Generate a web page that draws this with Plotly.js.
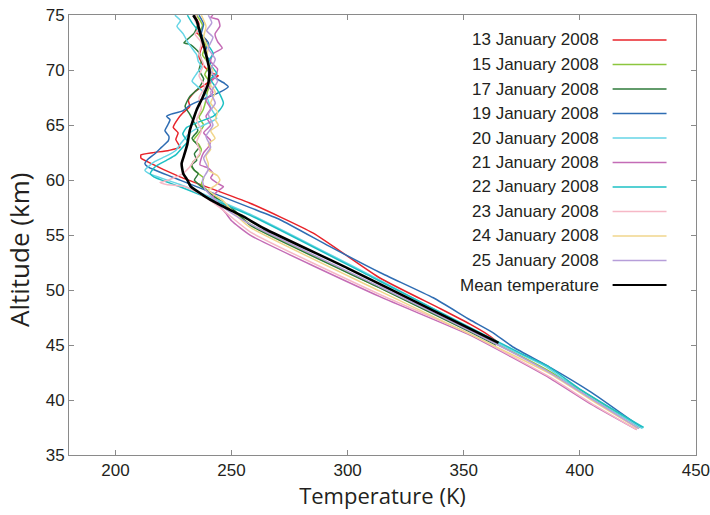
<!DOCTYPE html>
<html>
<head>
<meta charset="utf-8">
<script src="https://cdn.plot.ly/plotly-3.0.1.min.js"></script>
<style>
  html, body { margin: 0; padding: 0; background: #fff; }
  #chart { width: 710px; height: 515px; }
</style>
</head>
<body>
<div id="chart"></div>
<script>
// Temperature profiles (K) against altitude (km), one per observation day, plus the mean.
const seriesNames = [
  "13 January 2008", "15 January 2008", "17 January 2008", "19 January 2008",
  "20 January 2008", "21 January 2008", "22 January 2008", "23 January 2008",
  "24 January 2008", "25 January 2008", "Mean temperature"
];

const alt13 = [75, 74.2, 73.4, 72.7, 72.0, 71.2, 70.4, 69.8, 69.5, 69.2, 68.6, 68.0, 67.3, 66.7, 66.1, 65.6, 64.8, 64.3, 63.7, 63.0, 62.7, 62.5, 62.3, 62.0, 61.7, 60.3, 57.9, 55.2, 51.1, 48.3, 46.9, 46.0, 45.3];
const temp13 = [234, 236, 235, 239.3, 237, 236, 238, 241, 244.3, 242, 238, 234, 231.4, 232, 229, 227, 224.9, 227, 226, 227.8, 223, 216, 211, 211, 213.5, 227.8, 258, 285, 313.9, 340, 352.7, 360, 364.5];

const alt15 = [75, 74.1, 73.2, 72.3, 71.4, 70.5, 69.6, 68.8, 68.0, 67.3, 66.4, 65.7, 65.0, 64.3, 63.6, 63.3, 62.8, 62.2, 61.7, 61.2, 60.6, 60.2, 59.6, 59.0, 58.5, 58.0, 57.3, 56.0, 50.2, 46.3, 42.6, 40.3, 37.5];
const temp15 = [235, 237.5, 236, 239, 237.5, 240.5, 238.5, 241, 239.5, 239, 237.8, 236, 238, 236, 233.5, 235.7, 237, 236, 233.5, 232.8, 235.7, 238, 237, 240, 243, 246, 250, 258, 313.9, 352.7, 387, 405, 426];

const alt17 = [75, 74.2, 73.4, 72.8, 72.5, 72.3, 71.6, 70.8, 70.0, 69.2, 68.4, 67.6, 66.7, 66.0, 65.2, 64.5, 63.8, 63.0, 62.4, 61.8, 61.4, 60.9, 60.6, 60.0, 59.5, 59.0, 58.5, 58.0, 57.3, 55.9, 50.2, 46.2, 45.0];
const temp17 = [234, 235.5, 234, 231, 229.5, 232.5, 236, 237, 236, 238, 236, 232, 230, 232, 234, 235.5, 233, 236, 234, 235, 232.8, 234, 235.7, 234, 236.5, 239.5, 242.5, 246, 251, 258, 313.9, 352.7, 364];

const alt19 = [75, 74.2, 73.3, 72.5, 71.6, 70.7, 69.9, 69.3, 68.8, 68.5, 68.0, 67.3, 66.8, 66.3, 66.0, 65.8, 65.5, 65.0, 64.5, 64.0, 63.6, 63.0, 62.4, 61.9, 61.5, 61.2, 60.0, 57.5, 56.4, 54.0, 51.6, 49.3, 47.3, 46.2, 44.8, 43.0, 40.7, 37.5];
const temp19 = [236, 238, 237, 240, 238.5, 241, 240, 243, 247, 248.6, 245, 237, 232, 229, 224, 222, 223.5, 222.5, 221.3, 223, 222.8, 219.9, 217, 214, 212.7, 214, 227.8, 258, 270.9, 292, 313.9, 336.9, 352.7, 362, 371.4, 387, 405, 426.5];

const alt20 = [75, 74.5, 74.0, 73.3, 72.6, 72.0, 71.4, 70.8, 70.3, 69.7, 69.0, 68.4, 67.8, 67.2, 66.4, 65.9, 65.6, 65.2, 64.8, 64.3, 63.8, 63.3, 62.7, 62.2, 61.7, 61.2, 60.9, 60.6, 59.6, 56.9, 50.9, 46.5, 44.6, 43.0, 40.8, 37.4];
const temp20 = [225.6, 228, 226.5, 229.2, 231, 233, 235, 235.7, 237.1, 235, 233, 236, 239, 240, 241.5, 243, 243.6, 240, 236, 232, 230, 228, 226, 222, 217, 214, 212.7, 214.5, 227.8, 258, 313.9, 352.7, 370, 385.7, 400, 427];

const alt21 = [75, 74.8, 74.6, 74.0, 73.3, 72.6, 72.0, 71.5, 70.8, 70.1, 69.4, 68.6, 68.0, 67.3, 66.5, 65.8, 65.0, 64.3, 63.6, 63.0, 62.5, 62.0, 61.4, 61.1, 60.6, 60.2, 59.7, 59.4, 59.0, 58.5, 58.0, 57.6, 57.0, 56.3, 55.0, 49.4, 45.9, 42.0, 39.6, 37.3];
const temp21 = [242, 241, 244.3, 245, 242.9, 244, 246, 242.1, 241, 244, 243, 240, 242, 239, 241, 239, 241, 238, 241, 240, 238, 237, 236.4, 240, 242.1, 241, 244, 246.5, 244, 242, 244, 245, 247.5, 250, 258, 313.9, 352.7, 387, 405, 424.5];

const alt22 = [75, 74.3, 73.5, 72.8, 72.1, 71.5, 70.8, 70.2, 69.7, 69.2, 68.5, 67.8, 67.0, 66.4, 65.8, 65.3, 64.8, 64.2, 63.5, 63.0, 62.3, 61.8, 61.2, 60.6, 60.3, 59.4, 56.8, 50.8, 46.6, 44.2, 43.1, 41.0, 37.5];
const temp22 = [231, 233, 236, 238, 240.5, 242.1, 240, 242, 243.6, 241, 243, 245, 246.5, 245, 242.1, 236, 230.7, 229, 231, 229, 226, 222, 217, 215, 216.5, 227.8, 258, 313.9, 352.7, 375, 386, 400, 427.5];

const alt23 = [75, 74.5, 73.8, 73.3, 72.5, 71.5, 70.5, 69.5, 68.5, 67.5, 66.5, 65.5, 64.5, 63.5, 62.5, 61.8, 61.2, 60.6, 60.2, 59.9, 59.8, 59.6, 59.4, 58.8, 57.5, 55.3, 49.6, 46.0, 42.1, 39.7, 37.3];
const temp23 = [235, 234.3, 236, 234.3, 237, 236, 238, 236, 238.5, 236, 237, 235, 237, 235, 236.5, 234, 232, 229, 225, 221, 219.2, 222, 230, 236, 245, 258, 313.9, 352.7, 387, 405, 424.5];

const alt24 = [75, 74.0, 73.0, 72.0, 71.0, 70.0, 69.0, 68.0, 67.0, 66.2, 65.5, 65.0, 64.5, 63.8, 63.3, 62.8, 62.2, 61.5, 60.9, 60.4, 60.0, 59.5, 59.1, 58.6, 58.2, 57.4, 56.6, 55.7, 49.9, 46.0, 42.4, 40.0, 37.4];
const temp24 = [237, 239, 238, 240, 239, 242, 240, 243, 241, 244, 243, 244.3, 241, 242.9, 240, 241, 239, 240, 240, 244, 245, 243, 240, 243, 246, 249.5, 253, 258, 313.9, 352.7, 387, 405, 425];

const alt25 = [75, 74.3, 73.6, 73.0, 72.0, 71.0, 70.0, 69.0, 68.0, 67.0, 66.0, 65.0, 64.0, 63.0, 62.0, 61.0, 60.0, 59.2, 58.5, 57.8, 57.0, 56.0, 50.3, 46.3, 42.5, 40.1, 37.4];
const temp25 = [240, 241.5, 239.3, 242, 240, 243, 241, 244, 241, 243, 240, 242, 239, 241, 238, 240, 237.5, 238.5, 241.5, 245, 250, 258, 313.9, 352.7, 387, 405, 425.5];

const altMean = [75, 74.5, 73.0, 71.8, 71.0, 70.0, 68.8, 67.5, 66.4, 65.5, 64.5, 63.3, 62.2, 61.5, 60.6, 60.0, 59.4, 58.6, 57.9, 57.3, 56.7, 55.6, 52.0, 48.0, 45.2];
const tempMean = [233.5, 235, 237, 238.6, 239.5, 240.5, 240, 237.5, 235, 233.5, 232, 231, 229.5, 228.5, 229.2, 231, 232.5, 238, 243.6, 249.3, 255, 264, 299.9, 338.2, 365];

const xTicks = [200, 250, 300, 350, 400, 450];
const yTicks = [35, 40, 45, 50, 55, 60, 65, 70, 75];

const temps = [temp13, temp15, temp17, temp19, temp20, temp21, temp22, temp23, temp24, temp25, tempMean];
const alts  = [alt13, alt15, alt17, alt19, alt20, alt21, alt22, alt23, alt24, alt25, altMean];

const colors = ["#e8232a", "#8cc63e", "#2e7a3a", "#2f6db3", "#66d5e6", "#c46cb6",
                "#1dc0c4", "#f6b8c6", "#f1d68c", "#b69ed9", "#000000"];
const widths = [1.5, 1.5, 1.5, 1.5, 1.5, 1.5, 1.5, 1.5, 1.5, 1.5, 2.6];

const traces = temps.map((t, i) => ({
  x: t,
  y: alts[i],
  name: seriesNames[i],
  type: "scatter",
  mode: "lines",
  line: { color: colors[i], width: widths[i], shape: "spline", smoothing: 0.5 },
  showlegend: false,
  hoverinfo: "skip"
}));

// Legend drawn as right-aligned labels with the line sample to their right.
const plotLeft = 69, plotW = 627, plotTop = 15, plotH = 440;
const rowY0 = 40, rowStep = 24.5;
const annotations = [];
const shapes = [];
seriesNames.forEach((name, i) => {
  const py = (plotTop + plotH - (rowY0 + i * rowStep)) / plotH;
  annotations.push({
    xref: "paper", yref: "paper", x: 0.848, y: py,
    xanchor: "right", yanchor: "middle", showarrow: false,
    text: name,
    font: { family: "Liberation Sans, Arial, sans-serif", size: 17, color: "#231f20" }
  });
  shapes.push({
    type: "line", xref: "paper", yref: "paper",
    x0: 0.867, x1: 0.953, y0: py, y1: py,
    line: { color: colors[i], width: i === 10 ? 2 : 1.5 }
  });
});

// Vertical axis title, placed slightly below the plot's mid-height.
annotations.push({
  xref: "paper", yref: "paper",
  x: (19 - plotLeft) / plotW, y: (plotTop + plotH - 250) / plotH,
  xanchor: "center", yanchor: "middle", showarrow: false, textangle: -90,
  text: "Altitude (km)",
  font: { family: "Open Sans, Noto Sans, sans-serif", size: 26, color: "#231f20" }
});

const axisCommon = {
  showline: true, linecolor: "#8a8a8a", linewidth: 1,
  mirror: "ticks", ticks: "inside", ticklen: 5, tickcolor: "#8a8a8a", tickwidth: 1,
  showgrid: false, zeroline: false, ticklabeloverflow: "allow",
  tickfont: { family: "Liberation Sans, Arial, sans-serif", size: 17, color: "#231f20" }
};

const layout = {
  width: 710, height: 515,
  margin: { l: 69, r: 14, t: 15, b: 60 },
  paper_bgcolor: "#ffffff", plot_bgcolor: "#ffffff",
  showlegend: false,
  xaxis: Object.assign({}, axisCommon, {
    range: [180, 450.05], tickvals: xTicks, ticktext: xTicks.map(String),
    title: { text: "Temperature (K)", standoff: 7,
             font: { family: "Open Sans, Noto Sans, sans-serif", size: 22, color: "#231f20" } }
  }),
  yaxis: Object.assign({}, axisCommon, {
    range: [35, 75.02], tickvals: yTicks, ticktext: yTicks.map(String)
  }),
  annotations: annotations,
  shapes: shapes
};

Plotly.newPlot("chart", traces, layout, { staticPlot: true, displayModeBar: false });
</script>
</body>
</html>
